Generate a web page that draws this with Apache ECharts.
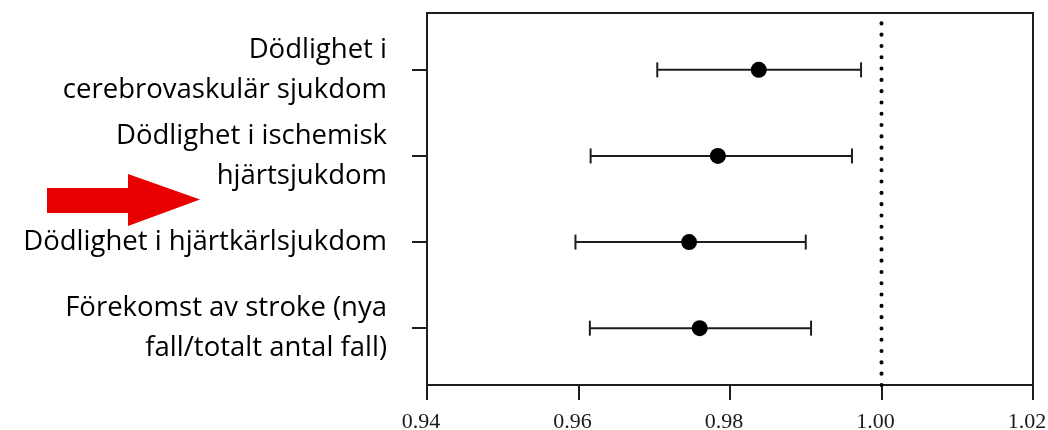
<!DOCTYPE html>
<html>
<head>
<meta charset="utf-8">
<script src="https://cdn.jsdelivr.net/npm/echarts@6/dist/echarts.min.js"></script>
<style>
  html, body { margin: 0; padding: 0; background: #fff; }
  #chart { width: 1048px; height: 430px; }
</style>
</head>
<body>
<div id="chart"></div>
<script>
// rows from top to bottom
const categories = [
  'Dödlighet i\ncerebrovaskulär sjukdom',
  'Dödlighet i ischemisk\nhjärtsjukdom',
  'Dödlighet i hjärtkärlsjukdom',
  'Förekomst av stroke (nya\nfall/totalt antal fall)'
]
const estimate = [0.9838, 0.9784, 0.9746, 0.9760]
const lower = [0.9704, 0.9616, 0.9596, 0.9615]
const upper = [0.9973, 0.9961, 0.9900, 0.9907]
const xTicks = [0.94, 0.96, 0.98, 1.00, 1.02]
const refValue = 1.00

// row i sits at y = n - i (top row highest)
const n = categories.length
const rowY = categories.map((c, i) => n - i)

const ink = '#1e1e1e'

const chart = echarts.init(document.getElementById('chart'))

const option = {
  backgroundColor: '#fff',
  animation: false,
  grid: {
    left: 427, right: 15, top: 13, bottom: 45,
    outerBoundsMode: 'none',
    show: true, borderColor: ink, borderWidth: 2, backgroundColor: 'transparent'
  },
  xAxis: {
    type: 'value',
    min: xTicks[0],
    max: xTicks[xTicks.length - 1],
    interval: 0.02,
    axisLine: { show: true, lineStyle: { color: ink, width: 2 } },
    axisTick: { show: true, length: 15, lineStyle: { color: ink, width: 2 } },
    splitLine: { show: false },
    axisLabel: {
      margin: 26,
      padding: [0, 12, 0, 0],
      color: '#1a1a1a',
      fontFamily: 'Liberation Serif',
      fontSize: 22,
      formatter: v => v.toFixed(2)
    }
  },
  yAxis: {
    type: 'value',
    min: 0.34,
    max: 4.66,
    axisLine: { show: true, lineStyle: { color: ink, width: 2 } },
    axisTick: { show: true, length: 15, customValues: rowY, lineStyle: { color: ink, width: 2 } },
    splitLine: { show: false },
    axisLabel: {
      customValues: rowY,
      margin: 40,
      padding: [6, 0, 0, 0],
      color: '#000',
      fontFamily: 'Open Sans',
      fontSize: 27.5,
      lineHeight: 40,
      align: 'right',
      formatter: v => categories[n - Math.round(v)]
    }
  },
  series: [
    {
      type: 'line',
      data: [[refValue, 0.34], [refValue, 4.66]],
      symbol: 'none',
      lineStyle: { color: '#000', width: 4, type: [0.1, 11.2], cap: 'round' },
      z: 1
    },
    {
      type: 'custom',
      data: categories.map((c, i) => [lower[i], upper[i], rowY[i]]),
      renderItem: (params, api) => {
        const a = api.coord([api.value(0), api.value(2)])
        const b = api.coord([api.value(1), api.value(2)])
        const h = 7.5
        const style = { stroke: ink, lineWidth: 2 }
        return {
          type: 'group',
          children: [
            { type: 'line', shape: { x1: a[0], y1: a[1], x2: b[0], y2: b[1] }, style },
            { type: 'line', shape: { x1: a[0], y1: a[1] - h, x2: a[0], y2: a[1] + h }, style },
            { type: 'line', shape: { x1: b[0], y1: b[1] - h, x2: b[0], y2: b[1] + h }, style }
          ]
        }
      },
      z: 2
    },
    {
      type: 'scatter',
      data: categories.map((c, i) => [estimate[i], rowY[i]]),
      symbol: 'circle',
      symbolSize: 16,
      itemStyle: { color: '#000', opacity: 1 },
      z: 3
    }
  ],
  graphic: [
    {
      type: 'polygon',
      shape: {
        points: [[47, 188], [128, 188], [128, 174], [200, 199.5], [128, 226], [128, 213], [47, 213]]
      },
      style: { fill: '#e80000' }
    }
  ]
}

chart.setOption(option)
</script>
</body>
</html>
